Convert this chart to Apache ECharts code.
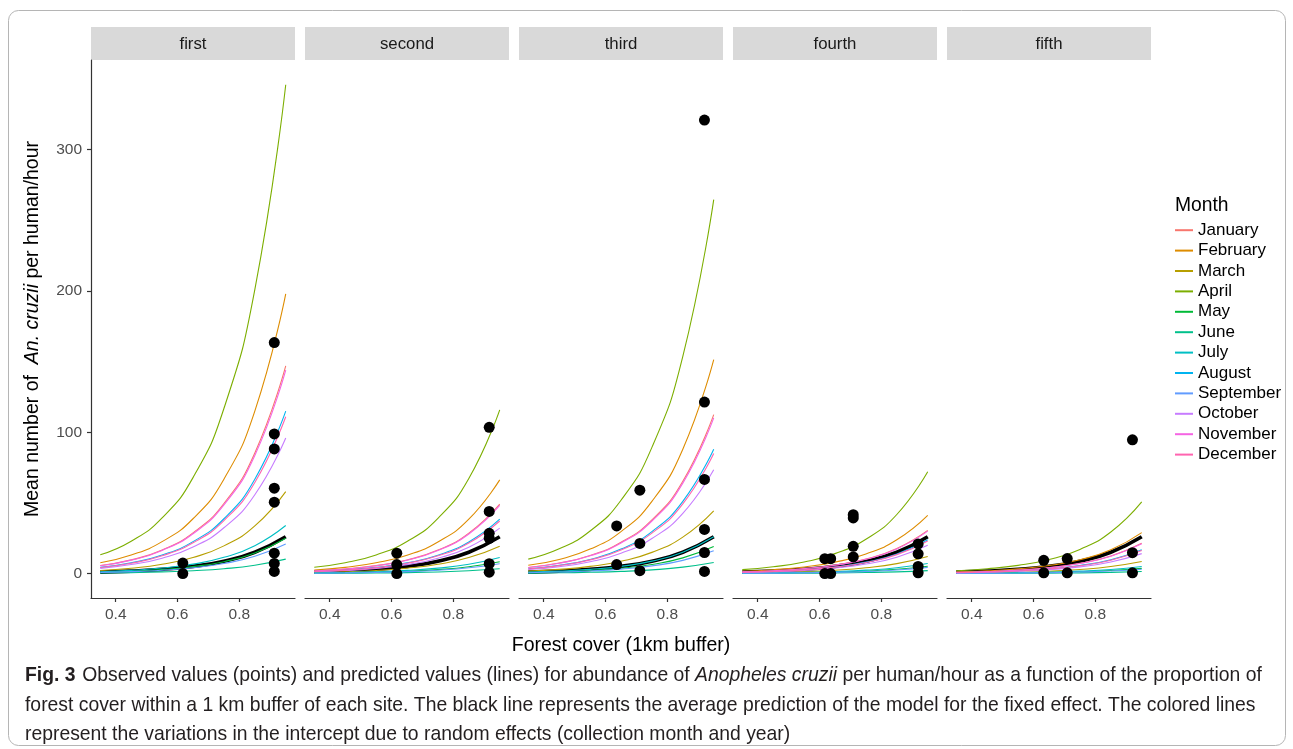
<!DOCTYPE html>
<html>
<head>
<meta charset="utf-8">
<script src="https://cdn.jsdelivr.net/npm/echarts@6/dist/echarts.min.js"></script>
<style>
  html, body { margin: 0; padding: 0; background: #fff; }
  #chart { width: 1293px; height: 749px; }
</style>
</head>
<body>
<div id="chart"></div>
<script>
const xs = [0.35, 0.45, 0.55, 0.65, 0.75, 0.85, 0.95]
const panels = ['first', 'second', 'third', 'fourth', 'fifth']
const months = ['January', 'February', 'March', 'April', 'May', 'June',
  'July', 'August', 'September', 'October', 'November', 'December']
const monthColors = ['#F8766D', '#DE8C00', '#B79F00', '#7CAE00', '#00BA38', '#00C08B',
  '#00BFC4', '#00B4F0', '#619CFF', '#C77CFF', '#F564E3', '#FF64B0']
const xTicks = [0.4, 0.6, 0.8]
const yTicks = [0, 100, 200, 300]

// fixed-effect prediction (black line), same in every panel
const fixedFit = [1.0, 1.72, 2.96, 5.1, 8.78, 15.1, 26]

// month curves per panel, Jan..Dec
const fitFirst = [
  [5.7, 9.7, 16.7, 28.8, 49.6, 85.4, 147],
  [7.6, 13.1, 22.6, 38.8, 66.8, 115, 198],
  [2.2, 3.8, 6.6, 11.4, 19.6, 33.7, 58],
  [13.3, 22.9, 39.4, 67.9, 116.8, 201, 346],
  [0.96, 1.66, 2.85, 4.9, 8.4, 14.5, 25],
  [0.39, 0.68, 1.16, 2.0, 3.4, 5.9, 10.2],
  [1.3, 2.25, 3.9, 6.7, 11.5, 19.7, 34],
  [4.4, 7.6, 13.1, 22.6, 38.8, 66.8, 115],
  [0.81, 1.39, 2.39, 4.1, 7.1, 12.2, 21],
  [3.7, 6.4, 10.9, 18.8, 32.4, 55.8, 96],
  [5.5, 9.5, 16.4, 28.2, 48.6, 83.6, 144],
  [4.3, 7.3, 12.6, 21.8, 37.5, 64.5, 111]
]
const fitSecond = [
  [1.9, 3.25, 5.6, 9.65, 16.6, 28.6, 49.2],
  [2.55, 4.4, 7.6, 13.0, 22.4, 38.5, 66.3],
  [0.74, 1.27, 2.2, 3.8, 6.6, 11.3, 19.4],
  [4.46, 7.67, 13.2, 22.7, 39.1, 67.3, 115.9],
  [0.32, 0.56, 0.95, 1.64, 2.8, 4.86, 8.4],
  [0.13, 0.23, 0.39, 0.67, 1.14, 1.98, 3.4],
  [0.44, 0.75, 1.3, 2.24, 3.85, 6.6, 11.4],
  [1.47, 2.55, 4.4, 7.57, 13.0, 22.4, 38.5],
  [0.27, 0.47, 0.8, 1.37, 2.38, 4.1, 7.0],
  [1.24, 2.14, 3.65, 6.3, 10.9, 18.7, 32.2],
  [1.84, 3.18, 5.5, 9.45, 16.3, 28.0, 48.2],
  [1.44, 2.45, 4.2, 7.3, 12.6, 21.6, 37.2]
]
const fitThird = [
  [4.33, 7.45, 12.8, 22.1, 38.0, 65.3, 112.5],
  [5.83, 10.0, 17.3, 29.7, 51.1, 88.0, 151.5],
  [1.71, 2.94, 5.06, 8.7, 15.0, 25.8, 44.4],
  [10.2, 17.5, 30.1, 51.9, 89.3, 153.7, 264.7],
  [0.74, 1.26, 2.18, 3.75, 6.45, 11.1, 19.1],
  [0.3, 0.52, 0.89, 1.53, 2.63, 4.53, 7.8],
  [1.0, 1.72, 2.96, 5.1, 8.78, 15.1, 26],
  [3.39, 5.83, 10.0, 17.3, 29.7, 51.1, 88],
  [0.62, 1.07, 1.83, 3.16, 5.43, 9.35, 16.1],
  [2.83, 4.86, 8.36, 14.4, 24.8, 42.6, 73.4],
  [4.24, 7.3, 12.55, 21.6, 37.2, 64.0, 110.2],
  [3.27, 5.62, 9.67, 16.65, 28.65, 49.3, 84.9]
]
const fitFourth = [
  [1.18, 2.03, 3.49, 6.0, 10.3, 17.8, 30.6],
  [1.59, 2.73, 4.69, 8.08, 13.9, 23.9, 41.2],
  [0.47, 0.8, 1.38, 2.37, 4.08, 7.03, 12.1],
  [2.77, 4.77, 8.2, 14.1, 24.3, 41.8, 72],
  [0.2, 0.34, 0.59, 1.02, 1.76, 3.02, 5.2],
  [0.08, 0.14, 0.24, 0.41, 0.71, 1.22, 2.1],
  [0.27, 0.47, 0.81, 1.39, 2.4, 4.12, 7.1],
  [0.92, 1.58, 2.72, 4.69, 8.07, 13.9, 23.9],
  [0.17, 0.29, 0.5, 0.86, 1.48, 2.56, 4.4],
  [0.77, 1.32, 2.28, 3.92, 6.75, 11.6, 20],
  [1.16, 1.99, 3.42, 5.88, 10.1, 17.4, 30],
  [0.89, 1.53, 2.63, 4.53, 7.8, 13.4, 23.1]
]
const fitFifth = [
  [0.83, 1.42, 2.45, 4.22, 7.26, 12.5, 21.5],
  [1.12, 1.92, 3.3, 5.69, 9.79, 16.8, 29],
  [0.33, 0.56, 0.97, 1.67, 2.87, 4.94, 8.5],
  [1.95, 3.36, 5.77, 9.94, 17.1, 29.4, 50.7],
  [0.14, 0.24, 0.42, 0.73, 1.25, 2.15, 3.7],
  [0.06, 0.1, 0.17, 0.29, 0.51, 0.87, 1.5],
  [0.19, 0.33, 0.57, 0.98, 1.69, 2.9, 5],
  [0.65, 1.12, 1.92, 3.31, 5.7, 9.8, 16.9],
  [0.12, 0.21, 0.35, 0.61, 1.05, 1.8, 3.1],
  [0.54, 0.93, 1.61, 2.77, 4.76, 8.2, 14.1],
  [0.81, 1.4, 2.4, 4.14, 7.12, 12.3, 21.1],
  [0.63, 1.08, 1.86, 3.2, 5.5, 9.47, 16.3]
]

// observed values [forest cover, mean number]
const obsFirst = [[0.617, 7.4], [0.617, 0], [0.913, 163.5], [0.913, 98.8], [0.913, 88.2],
  [0.913, 60.4], [0.913, 50.5], [0.913, 14.4], [0.913, 7.2], [0.913, 1.5]]
const obsSecond = [[0.617, 14.4], [0.617, 6.4], [0.617, 0], [0.916, 103.5], [0.916, 44],
  [0.916, 28.5], [0.916, 25], [0.916, 7], [0.916, 1]]
const obsThird = [[0.636, 33.7], [0.636, 6.4], [0.711, 59], [0.711, 21.3], [0.711, 2],
  [0.92, 321], [0.92, 121.4], [0.92, 66.6], [0.92, 31.2], [0.92, 14.9], [0.92, 1.5]]
const obsFourth = [[0.617, 10.5], [0.636, 10.5], [0.617, 0], [0.636, 0], [0.709, 41.7],
  [0.709, 39.4], [0.709, 19.3], [0.709, 11.8], [0.919, 21], [0.919, 14], [0.919, 5], [0.919, 0.5]]
const obsFifth = [[0.633, 9.4], [0.633, 0.5], [0.709, 10.6], [0.709, 0.5],
  [0.92, 94.7], [0.92, 14.8], [0.92, 0.5]]

const fits = [fitFirst, fitSecond, fitThird, fitFourth, fitFifth]
const observed = [obsFirst, obsSecond, obsThird, obsFourth, obsFifth]

const PANEL_LEFT = 91
const PANEL_STEP = 214
const PANEL_W = 204
const PANEL_TOP = 60
const PANEL_H = 538
const FONT = 'Liberation Sans, Arial, Helvetica, sans-serif'

const chart = echarts.init(document.getElementById('chart'), null, { renderer: 'canvas' })

const grids = panels.map((p, i) => ({
  left: PANEL_LEFT + PANEL_STEP * i,
  top: PANEL_TOP,
  width: PANEL_W,
  height: PANEL_H,
}))

const xAxes = panels.map((p, i) => ({
  type: 'value',
  gridIndex: i,
  min: 0.32,
  max: 0.98,
  splitLine: { show: false },
  axisLine: { onZero: false, lineStyle: { color: '#333', width: 1.2 } },
  axisTick: { customValues: xTicks, length: 4, lineStyle: { color: '#333', width: 1.2 } },
  axisLabel: {
    customValues: xTicks,
    formatter: v => v.toFixed(1),
    color: '#4D4D4D',
    fontSize: 15.5,
    fontFamily: FONT,
    margin: 8.5,
  },
}))

const yAxes = panels.map((p, i) => ({
  type: 'value',
  gridIndex: i,
  min: -17.3,
  max: 363.5,
  show: i === 0,
  splitLine: { show: false },
  axisLine: { show: true, onZero: false, lineStyle: { color: '#333', width: 1.2 } },
  axisTick: { customValues: yTicks, length: 4, lineStyle: { color: '#333', width: 1.2 } },
  axisLabel: {
    customValues: yTicks,
    color: '#4D4D4D',
    fontSize: 15.5,
    fontFamily: FONT,
    margin: 9,
  },
}))

const series = []
panels.forEach((p, i) => {
  series.push({
    type: 'line',
    name: 'fixed',
    xAxisIndex: i,
    yAxisIndex: i,
    data: xs.map((x, k) => [x, fixedFit[k]]),
    smooth: true,
    symbol: 'none',
    lineStyle: { color: '#000', width: 3.6 },
    z: 2,
    silent: true,
  })
  months.forEach((m, j) => {
    series.push({
      type: 'line',
      name: m,
      xAxisIndex: i,
      yAxisIndex: i,
      data: xs.map((x, k) => [x, fits[i][j][k]]),
      smooth: true,
      symbol: 'none',
      color: monthColors[j],
      lineStyle: { color: monthColors[j], width: 1.1 },
      z: 3,
    })
  })
  series.push({
    type: 'scatter',
    name: 'observed',
    xAxisIndex: i,
    yAxisIndex: i,
    data: observed[i],
    symbolSize: 11,
    itemStyle: { color: '#000', opacity: 1 },
    z: 4,
  })
})

const graphics = []
panels.forEach((p, i) => {
  const left = PANEL_LEFT + PANEL_STEP * i
  graphics.push({
    type: 'rect',
    shape: { x: left, y: 27, width: PANEL_W, height: 33 },
    style: { fill: '#D9D9D9' },
    silent: true,
  })
  graphics.push({
    type: 'text',
    x: left + PANEL_W / 2,
    y: 44,
    style: {
      text: p,
      fill: '#1A1A1A',
      font: '16.8px ' + FONT,
      align: 'center',
      verticalAlign: 'middle',
    },
    silent: true,
  })
})

// y axis title
graphics.push({
  type: 'text',
  x: 33,
  y: 329,
  rotation: Math.PI / 2,
  style: {
    text: '{a|Mean number of  }{i|An. cruzii}{a| per human/hour}',
    align: 'center',
    verticalAlign: 'middle',
    rich: {
      a: { fontSize: 19.5, fontFamily: FONT, fill: '#000' },
      i: { fontSize: 19.5, fontFamily: FONT, fontStyle: 'italic', fill: '#000' },
    },
  },
  silent: true,
})

// x axis title
graphics.push({
  type: 'text',
  x: 621,
  y: 646,
  style: {
    text: 'Forest cover (1km buffer)',
    fill: '#000',
    font: '19.5px ' + FONT,
    align: 'center',
    verticalAlign: 'middle',
  },
  silent: true,
})

// legend title
graphics.push({
  type: 'text',
  x: 1175,
  y: 206,
  style: {
    text: 'Month',
    fill: '#000',
    font: '19.3px ' + FONT,
    align: 'left',
    verticalAlign: 'middle',
  },
  silent: true,
})

// caption
const captionLines = [
  '{b|Fig. 3}  {a|Observed values (points) and predicted values (lines) for abundance of }{i|Anopheles cruzii}{a| per human/hour as a function of the proportion of}',
  '{a|forest cover within a 1 km buffer of each site. The black line represents the average prediction of the model for the fixed effect. The colored lines}',
  '{a|represent the variations in the intercept due to random effects (collection month and year)}',
]
captionLines.forEach((t, k) => {
  graphics.push({
    type: 'text',
    x: 25,
    y: 676 + 29.5 * k,
    style: {
      text: t,
      align: 'left',
      verticalAlign: 'middle',
      rich: {
        a: { fontSize: 19.35, fontFamily: FONT, fill: '#231F20' },
        i: { fontSize: 19.35, fontFamily: FONT, fontStyle: 'italic', fill: '#231F20' },
        b: { fontSize: 19.35, fontFamily: FONT, fontWeight: 'bold', fill: '#231F20' },
      },
    },
    silent: true,
  })
})

// figure frame
graphics.push({
  type: 'rect',
  shape: { x: 8.5, y: 10.5, width: 1277, height: 735, r: 10 },
  style: { fill: 'none', stroke: '#B5B5B5', lineWidth: 1 },
  silent: true,
})

chart.setOption({
  animation: false,
  backgroundColor: '#fff',
  grid: grids,
  xAxis: xAxes,
  yAxis: yAxes,
  legend: {
    data: months,
    orient: 'vertical',
    left: 1175,
    top: 220,
    padding: 0,
    icon: 'rect',
    itemWidth: 18,
    itemHeight: 2,
    itemGap: 0,
    selectedMode: false,
    textStyle: { fontSize: 17, fontFamily: FONT, color: '#000', lineHeight: 20.4 },
  },
  series,
  graphic: graphics,
})

window.addEventListener('resize', () => chart.resize())
</script>
</body>
</html>
